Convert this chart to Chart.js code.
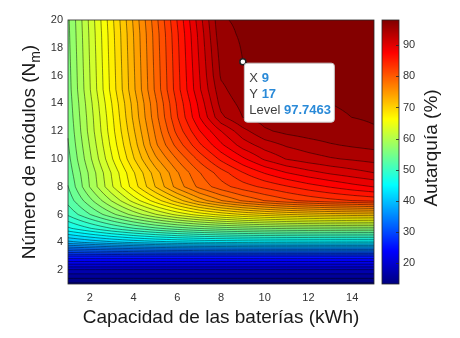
<!DOCTYPE html>
<html lang="es">
<head>
<meta charset="utf-8">
<title>Autarquía</title>
<script src="https://cdn.jsdelivr.net/npm/chart.js@4.4.1/dist/chart.umd.min.js"></script>
<style>
  html, body { margin: 0; padding: 0; background: #fff; }
  #wrap { position: relative; width: 460px; height: 338px; }
  #wrap canvas { position: absolute; top: 0; }
</style>
</head>
<body>
<div id="wrap">
  <canvas id="plot" width="460" height="338" style="left:0"></canvas>
  <canvas id="cbar" width="84" height="338" style="left:376px"></canvas>
</div>
<script>
// grid of the map: battery capacity (kWh) and number of PV modules
const capacidad = [1, 2, 3, 4, 5, 6, 7, 8, 9, 10, 11, 12, 13, 14, 15];
const modulos = [1, 2, 3, 4, 5, 6, 7, 8, 9, 10, 11, 12, 13, 14, 15, 16, 17, 18, 19, 20];

// autarquía (%) - one row per number of modules, one column per capacity
const autarquia = [
  [13.3, 13.3, 13.3, 13.3, 13.3, 13.3, 13.3, 13.3, 13.3, 13.3, 13.3, 13.3, 13.3, 13.3, 13.3],
  [18.5, 18.5, 18.5, 18.5, 18.5, 18.5, 18.5, 18.5, 18.5, 18.5, 18.5, 18.5, 18.5, 18.5, 18.5],
  [27.0, 27.0, 27.0, 27.0, 27.0, 27.0, 27.0, 27.0, 27.0, 27.0, 27.0, 27.0, 27.0, 27.0, 27.0],
  [40.0, 41.0, 41.9, 42.6, 43.2, 43.6, 43.9, 44.1, 44.25, 44.35, 44.4, 44.45, 44.5, 44.5, 44.5],
  [47.0, 48.9, 50.7, 52.3, 53.7, 54.9, 55.8, 56.5, 57.0, 57.35, 57.6, 57.75, 57.85, 57.95, 58.0],
  [51.0, 54.0, 56.9, 59.7, 62.3, 64.6, 66.5, 68.0, 69.2, 70.1, 70.8, 71.3, 71.65, 71.85, 72.0],
  [53.0, 56.9, 60.9, 64.8, 68.3, 71.7, 75.0, 77.5, 79.5, 81.0, 82.2, 83.1, 83.8, 84.3, 84.8],
  [54.0, 59.2, 63.9, 68.3, 72.6, 76.6, 79.7, 81.9, 83.5, 84.7, 85.8, 86.9, 87.8, 88.7, 89.4],
  [54.7, 59.5, 64.3, 69.0, 73.4, 77.4, 80.8, 83.5, 85.9, 87.8, 89.3, 90.4, 91.3, 92.0, 92.7],
  [55.2, 60.4, 65.6, 70.7, 75.5, 79.4, 83.1, 86.4, 89.0, 91.3, 92.8, 93.6, 94.2, 94.6, 95.0],
  [55.6, 60.9, 66.3, 71.6, 77.2, 81.6, 85.6, 89.0, 91.8, 93.5, 94.6, 95.3, 95.9, 96.3, 96.6],
  [55.9, 61.4, 66.8, 72.3, 77.9, 83.2, 87.5, 91.0, 93.8, 95.8, 96.5, 96.9, 97.2, 97.45, 97.65],
  [56.2, 61.6, 67.1, 72.9, 78.6, 84.2, 89.2, 94.0, 96.1, 96.8, 97.2, 97.45, 97.62, 97.75, 97.85],
  [56.4, 61.9, 67.5, 73.2, 78.9, 84.6, 89.8, 95.0, 96.6, 97.2, 97.45, 97.62, 97.75, 97.84, 97.92],
  [56.6, 62.35, 68.1, 73.85, 79.6, 85.3, 90.7, 95.6, 97.3, 97.55, 97.72, 97.8, 97.87, 97.93, 98.0],
  [56.7, 62.45, 68.2, 73.95, 79.7, 85.4, 90.9, 96.3, 97.5, 97.75, 97.83, 97.9, 97.95, 98.0, 98.03],
  [56.8, 62.55, 68.3, 74.05, 79.8, 85.5, 91.1, 96.6, 97.7463, 97.85, 97.92, 97.97, 98.0, 98.03, 98.06],
  [56.9, 62.65, 68.4, 74.15, 79.9, 85.6, 91.3, 96.9, 97.85, 97.95, 98.0, 98.04, 98.06, 98.08, 98.08],
  [57.0, 62.75, 68.5, 74.25, 80.0, 85.75, 91.5, 97.3, 97.95, 98.0, 98.05, 98.08, 98.1, 98.1, 98.1],
  [57.1, 62.9, 68.7, 74.5, 80.3, 86.1, 91.9, 97.6, 98.0, 98.05, 98.08, 98.1, 98.1, 98.1, 98.1]
];

const xTicks = [2, 4, 6, 8, 10, 12, 14];
const yTicks = [2, 4, 6, 8, 10, 12, 14, 16, 18, 20];
const cbTicks = [20, 30, 40, 50, 60, 70, 80, 90];

// data tip shown on the figure
const datatip = { x: 9, y: 17 };

// contour levels: the top one is the level shown in the data tip
const topLevel = 97.7463;
const levelStep = 1.68;

const cMin = Math.min(...autarquia.flat());
const cMax = Math.max(...autarquia.flat());
const levels = [];
for (let v = topLevel; v > cMin; v -= levelStep) levels.unshift(v);

const FONT = '"Liberation Sans", Arial, Helvetica, sans-serif';
const AXIS_COLOR = '#333';
const TITLE_SIZE = 19;

function jet(t) {
  const f = v => Math.round(255 * Math.max(0, Math.min(1, v)));
  return [f(1.5 - Math.abs(4 * t - 3)), f(1.5 - Math.abs(4 * t - 2)), f(1.5 - Math.abs(4 * t - 1))];
}
const toT = v => (v - cMin) / (cMax - cMin);
const levelColors = levels.map(l => jet(toT(l)));
const baseColor = jet(0);

function zAt(xv, yv) {
  const fx = (xv - capacidad[0]) / (capacidad[1] - capacidad[0]);
  const fy = (yv - modulos[0]) / (modulos[1] - modulos[0]);
  const i = Math.min(Math.max(Math.floor(fx), 0), capacidad.length - 2);
  const j = Math.min(Math.max(Math.floor(fy), 0), modulos.length - 2);
  const u = fx - i, v = fy - j;
  const r0 = autarquia[j], r1 = autarquia[j + 1];
  return (1 - u) * (1 - v) * r0[i] + u * (1 - v) * r0[i + 1] + (1 - u) * v * r1[i] + u * v * r1[i + 1];
}

function bandColor(z) {
  let k = 0;
  while (k < levels.length && z >= levels[k]) k++;
  return k === 0 ? baseColor : levelColors[k - 1];
}

// marching squares on a refined grid, so lines follow the filled bands
function strokeContours(ctx, xs, ys) {
  const n = 4;
  ctx.save();
  ctx.beginPath();
  for (let j = 0; j < modulos.length - 1; j++) {
    for (let i = 0; i < capacidad.length - 1; i++) {
      for (let sj = 0; sj < n; sj++) {
        for (let si = 0; si < n; si++) {
          const x0 = capacidad[i] + (capacidad[i + 1] - capacidad[i]) * si / n;
          const x1 = capacidad[i] + (capacidad[i + 1] - capacidad[i]) * (si + 1) / n;
          const y0 = modulos[j] + (modulos[j + 1] - modulos[j]) * sj / n;
          const y1 = modulos[j] + (modulos[j + 1] - modulos[j]) * (sj + 1) / n;
          const c = [[x0, y0], [x1, y0], [x1, y1], [x0, y1]];
          const z = c.map(p => zAt(p[0], p[1]));
          for (const L of levels) {
            const pts = [];
            for (let e = 0; e < 4; e++) {
              const a = e, b = (e + 1) % 4;
              if ((z[a] >= L) !== (z[b] >= L)) {
                const t = (L - z[a]) / (z[b] - z[a]);
                pts.push([c[a][0] + t * (c[b][0] - c[a][0]), c[a][1] + t * (c[b][1] - c[a][1])]);
              }
            }
            let segs = [];
            if (pts.length === 2) segs = [[pts[0], pts[1]]];
            else if (pts.length === 4) {
              const mid = (z[0] + z[1] + z[2] + z[3]) / 4;
              segs = ((mid >= L) === (z[0] >= L))
                ? [[pts[0], pts[1]], [pts[2], pts[3]]]
                : [[pts[3], pts[0]], [pts[1], pts[2]]];
            }
            for (const [p, q] of segs) {
              ctx.moveTo(xs.getPixelForValue(p[0]), ys.getPixelForValue(p[1]));
              ctx.lineTo(xs.getPixelForValue(q[0]), ys.getPixelForValue(q[1]));
            }
          }
        }
      }
    }
  }
  ctx.strokeStyle = 'rgba(0,0,0,0.7)';
  ctx.lineWidth = 0.65;
  ctx.stroke();
  ctx.restore();
}

const contourPlugin = {
  id: 'contourFill',
  beforeDatasetsDraw(chart) {
    const { ctx, chartArea: a, scales: { x, y } } = chart;
    const left = Math.round(a.left), top = Math.round(a.top);
    const w = Math.round(a.right) - left, h = Math.round(a.bottom) - top;
    const img = ctx.createImageData(w, h);
    for (let py = 0; py < h; py++) {
      const yv = y.getValueForPixel(top + py + 0.5);
      for (let px = 0; px < w; px++) {
        const xv = x.getValueForPixel(left + px + 0.5);
        const col = bandColor(zAt(xv, yv));
        const o = (py * w + px) * 4;
        img.data[o] = col[0]; img.data[o + 1] = col[1]; img.data[o + 2] = col[2]; img.data[o + 3] = 255;
      }
    }
    ctx.putImageData(img, left, top);
    strokeContours(ctx, x, y);
    ctx.save();
    ctx.strokeStyle = '#262626';
    ctx.lineWidth = 0.8;
    ctx.strokeRect(a.left, a.top, a.right - a.left, a.bottom - a.top);
    ctx.restore();
  },
  afterDraw(chart) {
    const { ctx, scales: { x, y } } = chart;
    // y axis title with subscript
    ctx.save();
    ctx.translate(30, 152);
    ctx.rotate(-Math.PI / 2);
    ctx.fillStyle = '#1a1a1a';
    ctx.textBaseline = 'middle';
    const main = 'Número de módulos (N', sub = 'm', close = ')';
    ctx.font = TITLE_SIZE + 'px ' + FONT;
    const w1 = ctx.measureText(main).width, w3 = ctx.measureText(close).width;
    ctx.font = '14px ' + FONT;
    const w2 = ctx.measureText(sub).width;
    const sx = -(w1 + w2 + w3) / 2;
    ctx.font = TITLE_SIZE + 'px ' + FONT;
    ctx.fillText(main, sx, 0);
    ctx.font = '14px ' + FONT;
    ctx.fillText(sub, sx + w1, 6);
    ctx.font = TITLE_SIZE + 'px ' + FONT;
    ctx.fillText(close, sx + w1 + w2, 0);
    ctx.restore();

    // data tip box
    const px = x.getPixelForValue(datatip.x), py = y.getPixelForValue(datatip.y);
    const zi = capacidad.indexOf(datatip.x), zj = modulos.indexOf(datatip.y);
    const rows = [['X', String(datatip.x)], ['Y', String(datatip.y)], ['Level', autarquia[zj][zi].toFixed(4)]];
    const bx = px + 1.5, by = py + 1.5, bw = 90, bh = 59;
    ctx.save();
    ctx.beginPath();
    ctx.roundRect(bx, by, bw, bh, 3);
    ctx.fillStyle = '#ffffff';
    ctx.fill();
    ctx.strokeStyle = '#c8c8c8';
    ctx.lineWidth = 1;
    ctx.stroke();
    ctx.textBaseline = 'alphabetic';
    rows.forEach((r, k) => {
      const ty = by + 18.5 + k * 16;
      ctx.font = '13px ' + FONT;
      ctx.fillStyle = '#404040';
      ctx.fillText(r[0], bx + 5, ty);
      const lw = ctx.measureText(r[0] + ' ').width;
      ctx.font = 'bold 13px ' + FONT;
      ctx.fillStyle = '#2a8ad8';
      ctx.fillText(r[1], bx + 5 + lw, ty);
    });
    ctx.restore();
  }
};

new Chart(document.getElementById('plot'), {
  type: 'scatter',
  data: {
    datasets: [{
      data: [{ x: datatip.x, y: datatip.y }],
      pointRadius: 3,
      pointBackgroundColor: '#ffffff',
      pointBorderColor: '#222222',
      pointBorderWidth: 1.5
    }]
  },
  options: {
    responsive: false,
    animation: false,
    devicePixelRatio: 1,
    events: [],
    layout: { padding: { left: 0, right: 86, top: 20, bottom: 0 } },
    plugins: { legend: { display: false }, tooltip: { enabled: false } },
    scales: {
      x: {
        type: 'linear', min: 1, max: 15,
        afterBuildTicks: s => { s.ticks = xTicks.map(v => ({ value: v })); },
        afterFit: s => { s.height = 54; },
        grid: { display: false, drawTicks: false },
        border: { display: false },
        ticks: { color: AXIS_COLOR, font: { family: FONT, size: 11 }, padding: 7, maxRotation: 0, autoSkip: false },
        title: {
          display: true, text: 'Capacidad de las baterías (kWh)', color: '#1a1a1a',
          font: { family: FONT, size: TITLE_SIZE }, padding: { top: 0, bottom: 9 }
        }
      },
      y: {
        type: 'linear', min: 1, max: 20,
        afterBuildTicks: s => { s.ticks = yTicks.map(v => ({ value: v })); },
        afterFit: s => { s.width = 68; },
        grid: { display: false, drawTicks: false },
        border: { display: false },
        ticks: { color: AXIS_COLOR, font: { family: FONT, size: 11 }, padding: 5, autoSkip: false }
      }
    }
  },
  plugins: [contourPlugin]
});

const colorbarPlugin = {
  id: 'colorbar',
  beforeDatasetsDraw(chart) {
    const { ctx, chartArea: a, scales: { y } } = chart;
    for (let py = Math.round(a.top); py < Math.round(a.bottom); py++) {
      const c = jet(toT(y.getValueForPixel(py + 0.5)));
      ctx.fillStyle = `rgb(${c[0]},${c[1]},${c[2]})`;
      ctx.fillRect(a.left, py, a.right - a.left, 1);
    }
    ctx.save();
    ctx.strokeStyle = '#262626';
    ctx.lineWidth = 0.8;
    ctx.strokeRect(a.left, a.top, a.right - a.left, a.bottom - a.top);
    ctx.beginPath();
    cbTicks.forEach(v => {
      const ty = Math.round(y.getPixelForValue(v)) + 0.5;
      ctx.moveTo(a.right - 3, ty);
      ctx.lineTo(a.right, ty);
    });
    ctx.stroke();
    ctx.restore();
  },
  afterDraw(chart) {
    const { ctx } = chart;
    ctx.save();
    ctx.translate(56, 148);
    ctx.rotate(-Math.PI / 2);
    ctx.font = TITLE_SIZE + 'px ' + FONT;
    ctx.fillStyle = '#1a1a1a';
    ctx.textAlign = 'center';
    ctx.textBaseline = 'middle';
    ctx.fillText('Autarquía (%)', 0, 0);
    ctx.restore();
  }
};

new Chart(document.getElementById('cbar'), {
  type: 'scatter',
  data: { datasets: [] },
  options: {
    responsive: false,
    animation: false,
    devicePixelRatio: 1,
    events: [],
    layout: { padding: { left: 6, right: 0, top: 20, bottom: 54 } },
    plugins: { legend: { display: false }, tooltip: { enabled: false } },
    scales: {
      x: { display: false, min: 0, max: 1 },
      y: {
        type: 'linear', position: 'right', min: cMin, max: cMax,
        afterBuildTicks: s => { s.ticks = cbTicks.map(v => ({ value: v })); },
        afterFit: s => { s.width = 61; },
        grid: { display: false, drawTicks: false },
        border: { display: false },
        ticks: { color: AXIS_COLOR, font: { family: FONT, size: 11 }, padding: 4, autoSkip: false }
      }
    }
  },
  plugins: [colorbarPlugin]
});
</script>
</body>
</html>
